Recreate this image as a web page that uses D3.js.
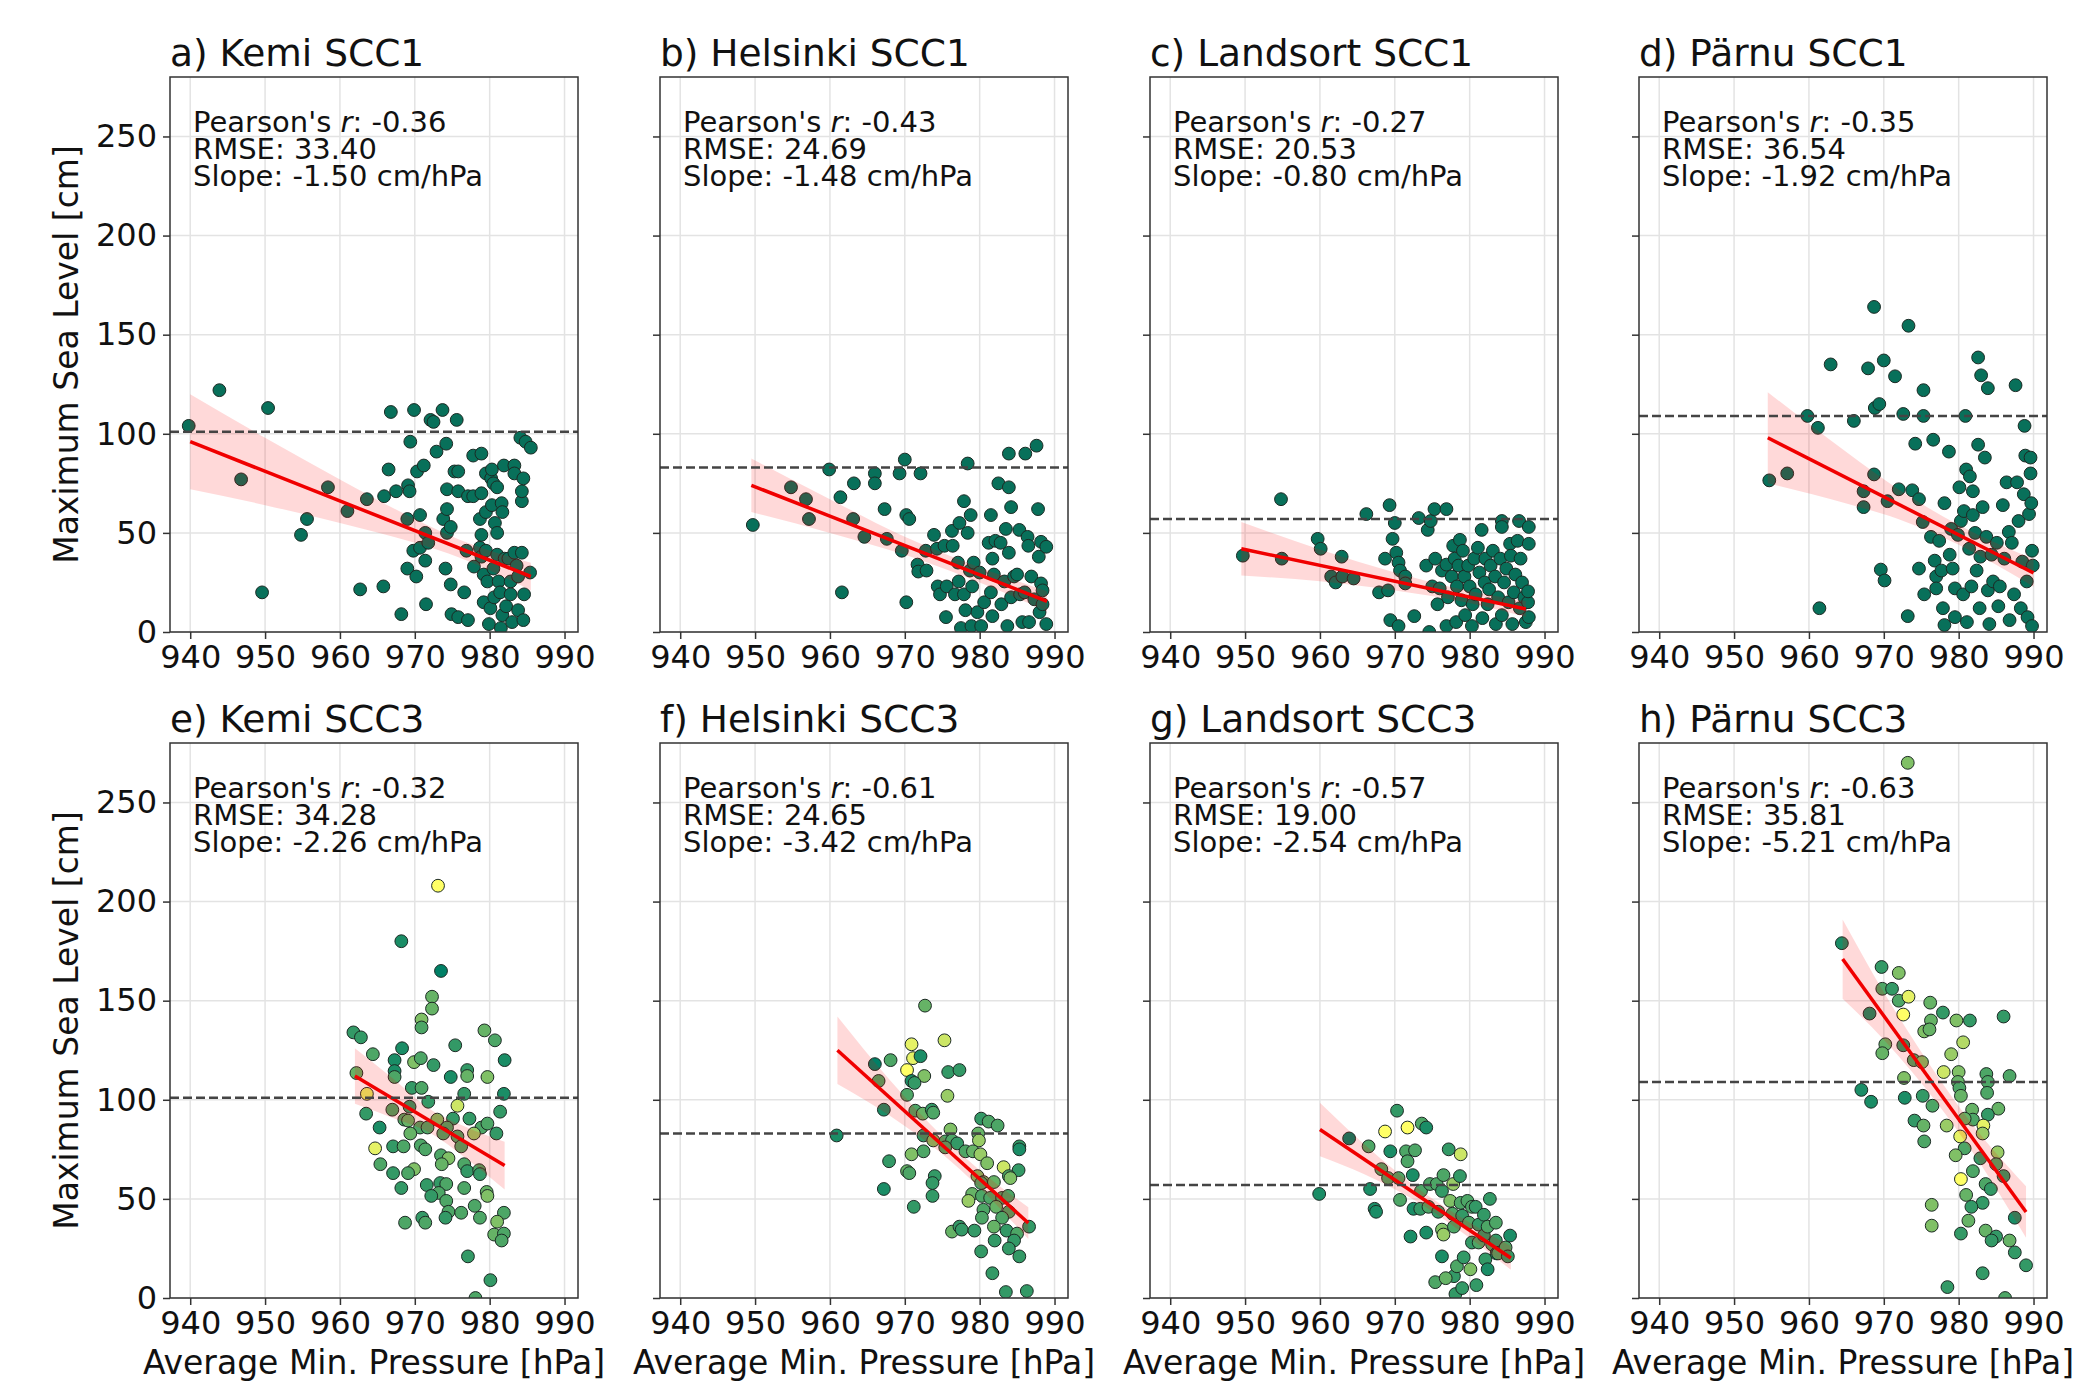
<!DOCTYPE html>
<html>
<head>
<meta charset="utf-8">
<script src="https://cdn.jsdelivr.net/npm/d3@7"></script>
<style>
  body { margin: 0; background: #fff; }
  svg { display: block; font-family: "DejaVu Sans", sans-serif; }
</style>
</head>
<body>
<svg width="2084" height="1384"></svg>
<script>
// ---- data ----
const xTicks = [940, 950, 960, 970, 980, 990];
const yTicks = [0, 50, 100, 150, 200, 250];

const titles = ["a) Kemi SCC1", "b) Helsinki SCC1", "c) Landsort SCC1", "d) Pärnu SCC1",
                "e) Kemi SCC3", "f) Helsinki SCC3", "g) Landsort SCC3", "h) Pärnu SCC3"];
const pearson = ["-0.36", "-0.43", "-0.27", "-0.35", "-0.32", "-0.61", "-0.57", "-0.63"];
const rmse = ["33.40", "24.69", "20.53", "36.54", "34.28", "24.65", "19.00", "35.81"];
const slope = ["-1.50", "-1.48", "-0.80", "-1.92", "-2.26", "-3.42", "-2.54", "-5.21"];
const thresholds = [101, 83, 57, 109, 101, 83, 57, 109];

// fit line end points [x0, y0, x1, y1]
const fits = [
  [940, 96, 985.5, 28], [949.5, 74, 989, 15.5], [949.5, 42, 987.5, 11.6], [954.5, 98, 990, 29.8],
  [962, 112, 982, 66.8], [961, 125, 986.5, 37.8], [960, 85, 985.5, 20.2], [964.5, 171, 989, 43.4]
];
// confidence band [x, lower, upper]
const bands = [
  [[940,72,120],[950,64,98],[960,55,77],[970,45,57],[976,37.5,46.5],[985.5,21,35]],
  [[949.5,60.5,87.5],[960,50,67],[970,39,48],[978,28,35.5],[989,10.5,20.5]],
  [[949.5,28.5,55.5],[960,25.6,41.6],[970,21,30],[979,15.4,21.4],[987.5,7.6,15.6]],
  [[954.5,75,121],[965,64.8,90.8],[972,56.9,71.9],[980,44,54],[990,22.8,36.8]],
  [[962,98,126],[967,91,111],[972,83.4,95.4],[977,70,86],[982,54.8,78.8]],
  [[961,108,142],[968,92,110],[975,72.6,81.6],[980,55.5,64.5],[986.5,29.8,45.8]],
  [[960,71.5,98.5],[966,62.3,77.3],[973,48.5,55.5],[978,35.8,42.8],[985.5,14.2,26.2]],
  [[964.5,151,191],[970,130.3,154.3],[977,98.9,112.9],[982,72.8,86.8],[989,30.4,56.4]]
];

const kemi1 = [[939.8,104],[943.9,122],[950.4,113],[946.8,77],[949.6,20],[954.8,49],[955.6,57],[958.4,73],[961,61],[962.7,21.5],
  [963.6,67],[965.8,23],[965.9,68.5],[966.5,82],[966.8,111],[967.5,71],[968.2,9],[969,57],[969,32],[969.1,74],
  [969.3,71],[969.4,96],[969.9,112],[969.8,41],[970.2,28],[970.3,81],[970.7,59],[970.7,42.5],[971.2,84],[971.4,36],
  [971.5,14],[971.4,50],[971.8,45],[972.1,107],[972.5,106],[972.9,91],[973.7,112],[973.8,57],[974.1,32],[974.2,95],
  [974.3,62],[974.3,72],[974.3,50],[974.8,53],[974.8,24],[974.9,9],[975.6,107],[975.3,81],[975.8,81],[975.8,71],
  [975.8,7.5],[976.6,20],[976.9,41],[977.1,6],[977.1,68.5],[977.8,68.5],[977.8,89],[977.9,33],[978.7,42.5],[978.9,90],
  [978.9,70],[978.7,57],[978.9,49],[978.9,38],[979.2,29],[979.2,15],[979.5,80],[979.5,60.5],[979.5,41],[979.7,25.5],
  [979.9,4],[980.1,12],[980.2,77.5],[980.3,64],[980.5,75],[980.3,82],[980.5,32],[980.6,17.5],[980.7,55],[981,73],
  [981,39],[981,50],[981.2,25.5],[981.4,20],[981.5,2],[981.6,65],[981.7,60.5],[981.9,84],[982,37],[981.7,8.5],
  [982.2,13],[982.5,37],[982.8,25.5],[982.8,19],[983,5],[983.3,84],[983.3,80],[983.3,40],[983.6,33.5],[983.8,28],
  [983.8,11],[984.1,98],[984.3,66],[984.3,71],[984.5,77.5],[984.3,40],[984.6,19],[984.5,6],[984.8,96],[985.5,93],
  [985.4,30]];

const helsinki1 = [[949.7,54],[954.8,73],[956.8,67],[957.2,57],[959.9,82],[961.4,68],[961.6,20],[963.1,57],[963.2,75],[964.6,48],
  [966,80],[966,75],[967.3,62],[967.6,47],[969.3,80],[969.6,41],[970,87],[970.2,59],[970.6,57],[970.2,15],
  [971.7,34],[971.8,30.5],[972.1,80],[972.8,41],[972.9,31],[973.9,49],[974.3,42],[974.4,23],[974.7,19],[975.3,43.5],
  [975.5,7.5],[975.6,23],[976.3,51],[976.4,43.5],[976.7,19],[977.1,35],[977.2,25.5],[977.3,55],[977.5,2],[977.9,66],
  [977.9,19],[978.1,11],[978.4,85],[978.4,50],[978.7,31],[978.8,59],[978.9,3],[979,23],[979.2,35],[979.7,10],
  [980,30],[980.2,3],[980.6,15],[981.2,45],[981.5,59],[981.5,20],[981.7,37],[981.7,8],[981.9,29],[982.1,46],
  [982.5,75],[982.8,45],[982.9,14],[983.3,25.5],[983.5,52],[983.7,3],[983.9,40],[983.9,73],[983.9,90],[984.2,63],
  [984.2,17.5],[984.6,28],[985,29],[985.3,51.5],[985.4,19],[985.7,5],[986,20],[986.1,90],[986.4,48],[986.5,43.5],
  [986.6,5],[986.9,28],[987.3,16.5],[987.6,94],[987.8,62],[987.9,38],[988,10],[988.2,45.5],[988.2,24.5],[988.4,21],
  [988.9,43],[988.9,4],[988.4,14]];

const landsort1 = [[949.7,38.5],[954.8,67],[954.9,37],[959.7,47],[960.1,42],[961.5,28],[962.1,25],[962.9,38],[963,28],[964.5,27],
  [966.2,59.5],[967.9,20],[968.7,37],[969.1,21],[969.3,64],[969.4,6],[969.7,47],[970,55],[970.2,40],[970.5,35],
  [970.5,3],[970.7,31],[971.4,28],[971.4,24.5],[972.6,8],[973.2,57.5],[974.2,33.5],[974.4,51.5],[974.6,0],[974.8,56],
  [975,23],[975.3,62],[975.4,37],[975.7,14],[976,22],[976.3,31],[976.9,62],[976.9,34],[976.9,3],[977.1,17.5],
  [977.6,28],[977.8,43.5],[978,37],[978.2,5],[978.3,23],[978.5,33.5],[978.7,46.5],[978.9,16],[979.1,41],[979.3,28],
  [979.4,8.5],[979.8,33.5],[980,23],[980.3,3],[980.4,14],[980.6,37],[980.8,19],[981.1,42.5],[981.3,30],[981.6,51.5],
  [981.7,7],[982,25],[982.1,37],[982.4,14],[982.6,21.5],[982.8,33.5],[983.1,41],[983.4,28],[983.5,4],[983.8,17.5],
  [984.1,37],[984.3,56],[984.3,53],[984.3,8.5],[984.6,25],[984.9,32],[985.2,15],[985.4,44.5],[985.5,38.5],[985.7,4],
  [985.9,20],[986.1,29],[986.4,46],[986.6,56],[986.7,12],[986.8,37],[987,25],[987.3,17.5],[987.5,5],[987.8,15],
  [987.9,53],[987.9,44.5],[987.8,20.5],[987.9,7.5]];

const parnu1 = [[954.7,76.5],[957.1,80],[959.8,109],[961.2,103],[961.4,12],[962.9,135],[966,106.5],[967.3,71],[967.3,63],[967.9,133],
  [968.7,164],[968.7,79.5],[968.8,113],[969.4,115],[969.6,31.5],[970,137],[970.1,26],[970.5,66],[971.5,129],[972,72],
  [973.2,8],[972.6,110],[973.3,154.5],[973.8,71.5],[974.2,95],[974.7,67],[974.7,32],[975.3,122],[975.3,109],[975.2,55.5],
  [975.4,19],[976.3,48],[976.6,97],[976.8,36],[977,28],[977,22],[977.4,46],[977.7,31],[977.9,12],[978.1,3.5],
  [978.1,65],[978.7,91],[978.8,39],[979,52],[979.2,32],[979.5,22],[979.5,7.5],[979.9,49],[980.1,73],[980.3,56],
  [980.6,19],[980.7,61],[980.9,109],[981,82],[981.1,5],[981.4,42],[981.5,78.5],[981.7,23],[981.9,71],[981.9,59],
  [982.2,50],[982.4,31],[982.6,94.5],[982.6,138.5],[982.8,12],[982.9,38],[983,129.5],[983.2,63],[983.5,88],[983.7,48],
  [983.9,123],[983.9,21],[984.1,4],[984.4,39],[984.6,25.5],[985.1,45],[985.3,13],[985.5,23],[985.9,64],[986.1,37],
  [986.4,75.5],[986.7,50.5],[986.8,6],[987.1,45],[987.4,19],[987.6,124.5],[987.8,75.5],[988,56],[988.3,12],[988.5,35.5],
  [988.7,69.5],[988.8,104],[988.9,89],[989.1,25.5],[989.2,7.5],[989.4,59.5],[989.6,88],[989.6,80],[989.7,65],[989.8,41],
  [989.9,33.5],[989.8,3]];

// SCC3: [pressure, sea level, colour value 0 (green) .. 1 (yellow)]
const kemi3 = [[973.1,208,1],[968.2,180,0.1],[973.5,165,0],[972.3,152,0.4],[972.3,146,0.4],[970.9,140.5,0.5],[970.9,136.5,0.3],[961.8,134,0.2],[962.8,131.5,0.2],[979.3,135,0.4],
  [980.7,130,0.3],[975.4,127.5,0.2],[968.3,126,0.1],[964.4,123,0.3],[967.3,120,0.1],[982,120,0.1],[969.9,119,0.5],[970.8,121,0.3],[972.5,117.5,0.2],[967.3,114.5,0.1],
  [977,115,0.2],[967.3,111.5,0.3],[974.8,111.5,0.1],[977,112,0.4],[979.7,111.5,0.5],[962.2,113.5,0.4],[969.6,106,0.2],[970.9,106,0.3],[976.6,103,0.2],[981.9,103,0.1],
  [963.6,103,0.9],[971.8,99,0.2],[969.3,96.5,0.2],[975.7,97,0.8],[967,95,0.3],[963.5,93,0.2],[981.4,94,0.2],[968.6,90,0.3],[973,90,0.5],[975.1,90.5,0.2],
  [977.3,90.5,0.2],[969.1,89.5,0.4],[965.3,86,0.1],[970.7,86,0.3],[974.3,86,0.3],[978.9,86,0.3],[979.7,88,0.3],[969.4,83,0.4],[971.7,86,0.3],[973.8,83,0.3],
  [977.9,83,0.6],[980.9,83,0.2],[975.7,81.5,0.3],[967.1,76.5,0.2],[968.5,76.5,0.3],[970.8,77,0.3],[971.4,75,0.3],[964.7,75.5,0.9],[976.2,76.5,0.3],[973.5,72,0.3],
  [974.5,70.5,0.5],[973.6,67.5,0.4],[965.4,67.5,0.3],[976.6,67.5,0.3],[977,64,0.2],[978.6,64.5,0.3],[969.9,65,0.5],[969.1,63,0.3],[967.1,63,0.2],[978.7,62.5,0.2],
  [968.2,55.5,0.2],[971.6,57,0.2],[973.4,58,0.2],[974.2,57.5,0.3],[976.6,55.5,0.3],[979.6,53.5,0.4],[973.2,53,0.3],[972.2,51.5,0.2],[974.2,49,0.3],[979.7,51.5,0.5],
  [978,46.5,0.3],[974.5,43.5,0.3],[976.2,43,0.3],[981.9,43,0.3],[971,40.5,0.2],[974.1,40.5,0.2],[978.7,40.5,0.3],[968.7,38,0.3],[971.4,38,0.3],[981,38.5,0.5],
  [980.6,32,0.4],[981.9,32.5,0.3],[981.6,29,0.3],[977.1,21,0.2],[980.1,9,0.2],[978.1,0,0.3]];

const helsinki3 = [[960.9,82,0.1],[972.7,147.5,0.4],[975.3,130,0.8],[970.9,128,0.9],[971.1,121,0.9],[972.1,122,0.1],[970.3,115,1],[966,118,0],[968.1,120,0.3],[972.6,112,0.5],
  [970.9,109.5,0.1],[971.3,108.5,0.2],[966.5,109.5,0.3],[975.8,114,0.2],[977.3,115,0.2],[970.3,102.5,0.3],[975.7,102,0.6],[967.2,95,0.1],[971.4,94.5,0.3],[972.4,93,0.4],
  [973.6,95,0.2],[973.8,93.5,0.3],[980.2,90.5,0.2],[981.2,89,0.3],[982.4,87,0.3],[976.1,85,0.5],[979.8,83,0.4],[972.5,82,0.2],[973.8,79.5,0.5],[975.4,79,0.3],
  [976.3,79.5,0.3],[977,78,0.2],[979.9,79.5,0.6],[978.1,74,0.3],[975.4,76,0.3],[985.3,76.5,0.2],[985.3,75,0.1],[970.9,72.5,0.5],[972.5,74,0.3],[979.1,74,0.4],
  [980.1,72.5,0.6],[981,68,0.5],[983.2,66,0.8],[967.9,69,0.2],[970.3,64,0.4],[970.6,63,0.3],[974,61.5,0.2],[979.7,61.5,0.5],[985.2,64.5,0.2],[983.9,61.5,0.3],
  [980.5,58.5,0.4],[980.2,58,0.3],[981.9,58.5,0.4],[984.1,60.5,0.5],[973.7,58,0.2],[967.2,55,0.1],[973.7,51.5,0.2],[979,52.5,0.4],[980.3,51.5,0.3],[978.5,49,0.6],
  [981.4,50.5,0.3],[983,50.5,0.3],[983.8,51.5,0.3],[982.2,46,0.4],[980.5,44.5,0.3],[971.2,46,0.2],[983.9,43.5,0.3],[980.3,40.5,0.3],[983,40.5,0.3],[976.3,33.5,0.4],
  [977.3,36,0.2],[977.6,34.5,0.2],[979.3,34,0.2],[981.9,36,0.4],[983.6,34,0.2],[985,32.5,0.3],[986.6,36,0.2],[984.6,29,0.2],[982,29,0.2],[983.9,25,0.2],
  [980.2,23.5,0.2],[985.3,21,0.2],[981.7,12.5,0.2],[983.5,3,0.2],[986.3,3.5,0.2]];

const landsort3 = [[959.9,52.5,0.1],[963.9,80.5,0],[966.5,76.5,0.3],[966.7,55,0.1],[967.3,45,0.1],[967.5,43.5,0.1],[968.2,65,0.3],[968.7,84,1],[969.4,74,0.1],[969.1,60.5,0.3],
  [970.3,94.5,0.2],[970.5,60.5,0.3],[970.7,49.5,0.3],[971.5,74,0.3],[971.7,86,1],[971.7,69,0.3],[972.1,31,0.1],[972.4,62,0.1],[972.7,74.5,0.3],[972.5,45,0.1],
  [973.4,45,0.2],[973.5,54,0.3],[973.6,88,0.3],[974.2,86,0.1],[974.2,33,0.1],[974.5,46,0.3],[974.7,57.5,0.3],[975.6,57.5,0.3],[975.8,43.5,0.2],[976.3,34.5,0.5],
  [976.5,32,0.6],[976.3,21,0.1],[976.3,54,0.2],[976.5,62,0.3],[977.2,75,0.2],[977.4,49,0.5],[977.7,42.5,0.3],[977.8,57.5,0.6],[977.9,36,0.3],[977.9,11,0.2],
  [975.4,8,0.3],[976.8,10,0.4],[978.1,2,0.2],[978.3,16,0.3],[978.7,61.5,0.2],[978.8,72.5,0.8],[978.8,48,0.3],[979,41.5,0.2],[979,5,0.2],[979.2,20.5,0.2],
  [979.7,49,0.3],[979.9,38,0.3],[980.1,14.5,0.5],[980.3,46,0.3],[980.3,28,0.2],[980.8,46,0.2],[980.9,6.5,0.2],[981.2,28,0.3],[981.2,37,0.2],[981.9,42,0.2],
  [981.9,31.5,0.2],[982.1,19.5,0.2],[982.4,14.5,0.1],[982.4,36,0.3],[982.7,50,0.2],[983,27,0.3],[983.5,38,0.3],[983.5,29,0.2],[983.6,22.5,0.1],[983.8,22.5,0.3],
  [984.8,25.5,0.3],[985.1,21,0.2],[985.4,31.5,0.1]];

const parnu3 = [[973.2,270,0.5],[964.4,179,0.1],[969.7,167,0.2],[972,164,0.5],[969.8,156,0.3],[971.1,156,0.2],[972,150,0.3],[973.3,152,0.9],[972.6,143,1],[968.1,143.5,0.1],
  [976.2,149,0.4],[977.9,144,0.2],[976.3,140,0.4],[979.7,140,0.5],[981.5,140,0.2],[986,142,0.2],[975.4,134.5,0.5],[976.1,135.5,0.4],[970.2,128,0.4],[980.6,129,0.7],
  [969.8,123.5,0.4],[972.6,127.5,0.2],[979,123,0.6],[974,120,0.3],[975.1,119,0.5],[978,114,0.8],[980,114,0.5],[983.7,113,0.3],[972.7,111,0.5],[979.9,109,0.4],
  [983.9,109,0.3],[986.8,112,0.3],[980.1,106,0.3],[967,105,0.1],[983.8,103.5,0.3],[968.3,99,0.1],[972.8,101,0.1],[975.2,102,0.2],[980.3,102,0.4],[976.5,97,0.3],
  [981.8,95,0.4],[985.3,95.5,0.4],[983.9,92.5,0.2],[981.9,90,0.3],[974.1,89.5,0.2],[975.3,87,0.4],[978.4,87,0.6],[980.8,90.5,0.4],[983.3,87,0.9],[980.2,81.5,0.9],
  [983.2,83,0.6],[975.4,79,0.3],[980.8,75.5,0.3],[979.6,72,0.5],[985.2,73.5,0.6],[982.9,70.5,0.2],[985,67.5,0.3],[986,61.5,0.2],[981.9,64,0.3],[980.3,60,1],
  [983.6,57.5,0.3],[984.3,55,0.2],[981,52,0.4],[983.2,48,0.2],[981.7,46,0.2],[976.4,47,0.5],[981.3,39,0.4],[987.5,40.5,0.1],[976.4,36.5,0.5],[980.3,32.5,0.2],
  [983.6,34,0.4],[985,31,0.2],[984.4,29,0.2],[986.8,29,0.4],[987.5,23,0.2],[989,16.5,0.2],[983.2,12.5,0.2],[978.5,5.5,0.2],[986.2,0,0.3]];

const series = [kemi1, helsinki1, landsort1, parnu1, kemi3, helsinki3, landsort3, parnu3];

// ---- layout ----
const svg = d3.select("svg");
const colLeft = [170, 660, 1150, 1639];
const rowTop = [77, 743];
const pw = 408, ph = 555;

const x = d3.scaleLinear().domain([937.3, 991.8]).range([0, pw]);
const y = d3.scaleLinear().domain([0, 280]).range([ph, 0]);

// summer-like colormap for the SCC3 points
const summer = t => d3.rgb(255 * t, 128 + 127 * t, 102);

series.forEach((pts, i) => {
  const row = Math.floor(i / 4), col = i % 4;
  const g = svg.append("g").attr("transform", `translate(${colLeft[col]},${rowTop[row]})`);

  // grid
  g.append("g").selectAll("line").data(xTicks).join("line")
    .attr("x1", d => x(d)).attr("x2", d => x(d)).attr("y1", 0).attr("y2", ph)
    .attr("stroke", "#e3e3e3").attr("stroke-width", 1.5);
  g.append("g").selectAll("line").data(yTicks).join("line")
    .attr("x1", 0).attr("x2", pw).attr("y1", d => y(d)).attr("y2", d => y(d))
    .attr("stroke", "#e3e3e3").attr("stroke-width", 1.5);

  // points
  const clip = "clip" + i;
  g.append("clipPath").attr("id", clip).append("rect").attr("width", pw).attr("height", ph);
  g.append("g").attr("clip-path", `url(#${clip})`).selectAll("circle").data(pts).join("circle")
    .attr("cx", d => x(d[0])).attr("cy", d => y(d[1])).attr("r", 6.4)
    .attr("fill", d => row === 0 ? "#08705a" : summer(d[2]))
    .attr("stroke", "#1c2a24").attr("stroke-width", 1);

  // CI band and fit
  const band = d3.area().x(d => x(d[0])).y0(d => y(d[1])).y1(d => y(d[2])).curve(d3.curveMonotoneX);
  g.append("path").datum(bands[i]).attr("d", band).attr("fill", "rgba(255,0,0,0.15)");
  const f = fits[i];
  g.append("line")
    .attr("x1", x(f[0])).attr("y1", y(f[1])).attr("x2", x(f[2])).attr("y2", y(f[3]))
    .attr("stroke", "#f00000").attr("stroke-width", 3.5);

  // threshold
  g.append("line").attr("x1", 0).attr("x2", pw)
    .attr("y1", y(thresholds[i])).attr("y2", y(thresholds[i]))
    .attr("stroke", "#444").attr("stroke-width", 2.5).attr("stroke-dasharray", "9,4");

  // frame
  g.append("rect").attr("width", pw).attr("height", ph)
    .attr("fill", "none").attr("stroke", "#333").attr("stroke-width", 1.5);

  // axes
  const xa = g.append("g").attr("transform", `translate(0,${ph})`)
    .call(d3.axisBottom(x).tickValues(xTicks).tickSize(7).tickPadding(6).tickFormat(d3.format("d")));
  const ya = g.append("g")
    .call(d3.axisLeft(y).tickValues(yTicks).tickSize(7).tickPadding(6).tickFormat(col === 0 ? d3.format("d") : ""));
  [xa, ya].forEach(a => {
    a.select(".domain").remove();
    a.selectAll("line").attr("stroke", "#333").attr("stroke-width", 1.5);
    a.selectAll("text").attr("font-size", 32).attr("fill", "#111")
      .attr("font-family", "DejaVu Sans, sans-serif");
  });

  // title
  g.append("text").attr("x", 0).attr("y", -11).attr("font-size", 37.5).attr("fill", "#111")
    .text(titles[i]);

  // stats
  const t = g.append("text").attr("x", 23).attr("y", 55).attr("font-size", 29).attr("fill", "#111");
  t.append("tspan").text("Pearson's ");
  t.append("tspan").attr("font-style", "italic").text("r");
  t.append("tspan").text(": " + pearson[i]);
  g.append("text").attr("x", 23).attr("y", 82).attr("font-size", 29).attr("fill", "#111")
    .text("RMSE: " + rmse[i]);
  g.append("text").attr("x", 23).attr("y", 109).attr("font-size", 29).attr("fill", "#111")
    .text("Slope: " + slope[i] + " cm/hPa");

  // axis labels
  if (col === 0) {
    g.append("text").attr("transform", `translate(-92,${ph / 2}) rotate(-90)`)
      .attr("text-anchor", "middle").attr("font-size", 33).attr("fill", "#111")
      .text("Maximum Sea Level [cm]");
  }
  if (row === 1) {
    g.append("text").attr("x", pw / 2).attr("y", ph + 76)
      .attr("text-anchor", "middle").attr("font-size", 33).attr("fill", "#111")
      .text("Average Min. Pressure [hPa]");
  }
});
</script>
</body>
</html>
